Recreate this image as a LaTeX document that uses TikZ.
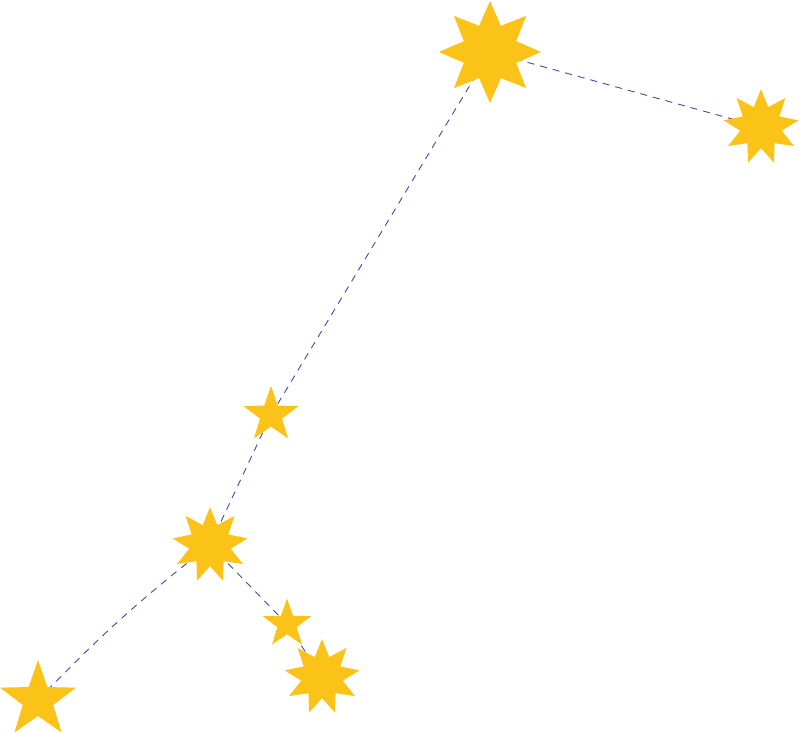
\documentclass[tikz,border=0pt]{standalone}
\usetikzlibrary{shapes.geometric,backgrounds}
\definecolor{staryellow}{RGB}{251,194,24}
\definecolor{linkblue}{RGB}{60,76,165}
\begin{document}
\begin{tikzpicture}[x=1pt,y=-1pt,
  starbox/.style={star,fill=staryellow,draw=none,inner sep=0pt,outer sep=0pt},
  link/.style={draw=linkblue,dash pattern=on 7pt off 6pt,line width=0.9pt}]
\useasboundingbox (0,0) rectangle (800,733);
\node[starbox,star points=8,star point ratio=1.8,minimum size=102pt] (top) at (490,52) {};
\node[starbox,star points=9,star point ratio=1.8,minimum size=76pt] (right) at (761,127) {};
\node[starbox,star points=5,star point ratio=2.5,minimum size=58pt] (mid) at (271,415) {};
\node[starbox,star points=9,star point ratio=1.8,minimum size=76pt] (low) at (210,545) {};
\node[starbox,star points=5,star point ratio=2.5,minimum size=51pt] (small) at (287,624) {};
\node[starbox,star points=9,star point ratio=1.8,minimum size=76pt] (nine) at (322,677) {};
\node[starbox,star points=5,star point ratio=2.5,minimum size=80pt] (bl) at (38,700) {};
\begin{pgfonlayer}{background}
\draw[link] (bl.center) to[bend left=4] (low.center);
\draw[link] (low.center) -- (mid.center);
\draw[link] (mid.center) -- (top.center);
\draw[link] (top.center) -- (right.center);
\draw[link] (low.center) -- (small.center);
\draw[link] (small.center) -- (nine.center);
\end{pgfonlayer}
\end{tikzpicture}
\end{document}
